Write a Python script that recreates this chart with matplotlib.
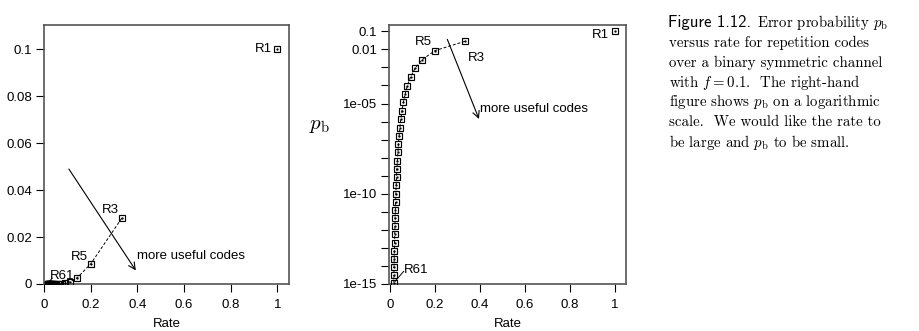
"""Bit error probability against rate for repetition codes R1 ... R61
over a binary symmetric channel with f = 0.1 (linear and log panels)."""

import matplotlib
matplotlib.use('Agg')
import matplotlib.pyplot as plt
from matplotlib.ticker import FixedLocator, NullLocator

matplotlib.rcParams['font.family'] = ['Liberation Sans', 'DejaVu Sans']
matplotlib.rcParams['mathtext.fontset'] = 'cm'
matplotlib.rcParams['xtick.direction'] = 'out'
matplotlib.rcParams['ytick.direction'] = 'out'
matplotlib.rcParams['xtick.major.size'] = 5.5
matplotlib.rcParams['ytick.major.size'] = 5.5
matplotlib.rcParams['xtick.major.width'] = 0.8
matplotlib.rcParams['ytick.major.width'] = 0.8
matplotlib.rcParams['xtick.labelsize'] = 9.5
matplotlib.rcParams['ytick.labelsize'] = 9.5

# === Data: repetition codes R_N, N = 1, 3, ..., 61
code_N = [1, 3, 5, 7, 9, 11, 13, 15, 17, 19, 21, 23, 25, 27, 29, 31,
          33, 35, 37, 39, 41, 43, 45, 47, 49, 51, 53, 55, 57, 59, 61]
rate = [1.0, 0.333, 0.2, 0.143, 0.111, 0.0909, 0.0769, 0.0667, 0.0588,
        0.0526, 0.0476, 0.0435, 0.04, 0.037, 0.0345, 0.0323, 0.0303,
        0.0286, 0.027, 0.0256, 0.0244, 0.0233, 0.0222, 0.0213, 0.0204,
        0.0196, 0.0189, 0.0182, 0.0175, 0.0169, 0.0164]
p_b = [0.1, 0.028, 0.00856, 0.00273, 0.000891, 0.000296, 9.93e-05,
       3.36e-05, 1.15e-05, 3.93e-06, 1.35e-06, 4.68e-07, 1.62e-07,
       5.63e-08, 1.96e-08, 6.85e-09, 2.4e-09, 8.39e-10, 2.94e-10,
       1.03e-10, 3.64e-11, 1.28e-11, 4.51e-12, 1.59e-12, 5.61e-13,
       1.98e-13, 7.01e-14, 2.48e-14, 8.77e-15, 3.11e-15, 1.1e-15]

lin_yticks = [0, 0.02, 0.04, 0.06, 0.08, 0.1]
lin_ytick_labels = ['0', '0.02', '0.04', '0.06', '0.08', '0.1']
# one tick per decade, labels only on some of them
log_yticks = [0.1, 0.01, 1e-3, 1e-4, 1e-5, 1e-6, 1e-7, 1e-8, 1e-9,
              1e-10, 1e-11, 1e-12, 1e-13, 1e-14, 1e-15]
log_ytick_labels = ['0.1', '0.01', '', '', '1e-05', '', '', '', '',
                    '1e-10', '', '', '', '', '1e-15']
xticks = [0, 0.2, 0.4, 0.6, 0.8, 1]
xtick_labels = ['0', '0.2', '0.4', '0.6', '0.8', '1']

caption = [
    'versus rate for repetition codes',
    'over a binary symmetric channel',
    r'with $f = 0.1$.  The right-hand',
    r'figure shows $p_{\rm b}$ on a logarithmic',
    r'scale.  We would like the rate to',
    r'be large and $p_{\rm b}$ to be small.',
]

frame_col = '#555555'


def draw_points(ax):
    # dashed curve through R3..R61, then open squares with a centre dot
    ax.plot(rate[1:], p_b[1:], ls=(0, (3, 2)), color='k', lw=0.7, zorder=2)
    ax.plot(rate, p_b, ls='none', marker='s', ms=4.8, mfc='none',
            mec='k', mew=0.85, zorder=3)
    ax.plot(rate, p_b, ls='none', marker='.', ms=1.3, color='k', zorder=4)


def style_axes(ax):
    for sp in ax.spines.values():
        sp.set_color(frame_col)
        sp.set_linewidth(1.2)
    ax.xaxis.set_major_locator(FixedLocator(xticks))
    ax.set_xticklabels(xtick_labels)
    ax.set_xlabel('Rate', fontsize=9.5, labelpad=5)
    ax.tick_params(axis='x', pad=5)
    ax.tick_params(axis='y', pad=3)


fig = plt.figure(figsize=(9.19, 3.31), dpi=100)

# --- left panel: linear p_b
ax1 = fig.add_axes([44 / 919, 47 / 331, 245 / 919, 259 / 331])
draw_points(ax1)
style_axes(ax1)
ax1.set_xlim(0, 1.05)
ax1.set_ylim(0, 0.1104)
ax1.yaxis.set_major_locator(FixedLocator(lin_yticks))
ax1.set_yticklabels(lin_ytick_labels)

ax1.text(0.975, p_b[0], 'R1', ha='right', va='center', fontsize=9.5)
ax1.text(rate[1] - 0.01, p_b[1] + 0.0035, 'R3', ha='right', va='center',
         fontsize=9.5)
ax1.text(rate[2] - 0.01, p_b[2] + 0.003, 'R5', ha='right', va='center',
         fontsize=9.5)
ax1.plot([rate[-1], 0.035], [0.0003, 0.0025], color='k', lw=0.7)
ax1.text(0.026, 0.0035, 'R61', ha='left', va='center', fontsize=9.5)
ax1.annotate('', xy=(0.4, 0.0048), xytext=(0.1, 0.05),
             arrowprops=dict(arrowstyle='->', color='k', lw=0.8,
                             mutation_scale=12))
ax1.text(0.4, 0.0118, 'more useful codes', ha='left', va='center',
         fontsize=9.5)

# --- right panel: log p_b
ax2 = fig.add_axes([389 / 919, 47 / 331, 237 / 919, 259 / 331])
draw_points(ax2)
ax2.set_yscale('log')
style_axes(ax2)
ax2.set_xlim(-0.005, 1.05)
ax2.set_ylim(1e-15, 0.224)
ax2.yaxis.set_major_locator(FixedLocator(log_yticks))
ax2.yaxis.set_minor_locator(NullLocator())
ax2.set_yticklabels(log_ytick_labels)

ax2.text(0.975, 0.062, 'R1', ha='right', va='center', fontsize=9.5)
ax2.text(0.345, 0.0032, 'R3', ha='left', va='center', fontsize=9.5)
ax2.text(0.185, 0.026, 'R5', ha='right', va='center', fontsize=9.5)
ax2.plot([0.022, 0.06], [1.4e-15, 5e-15], color='k', lw=0.7)
ax2.text(0.063, 6e-15, 'R61', ha='left', va='center', fontsize=9.5)
ax2.annotate('', xy=(0.4, 1e-06), xytext=(0.25, 0.05),
             arrowprops=dict(arrowstyle='->', color='k', lw=0.8,
                             mutation_scale=12))
ax2.text(0.4, 5e-06, 'more useful codes', ha='left', va='center',
         fontsize=9.5)

fig.text(319 / 919, 1 - 125 / 331, r'$p_{\rm b}$', fontsize=15,
         ha='center', va='center')

# --- caption
fig.text(668 / 919, 1 - 22.5 / 331, 'Figure 1.12.', family='cmss10',
         fontsize=12, ha='left', va='center')
fig.text(757 / 919, 1 - 22.5 / 331, r'Error probability $p_{\rm b}$',
         family='cmr10', fontsize=10.7, ha='left', va='center')
for i, line in enumerate(caption):
    fig.text(669 / 919, 1 - (42.5 + 20 * i) / 331, line, family='cmr10',
             fontsize=10.7, ha='left', va='center')

fig.savefig('out.png', dpi=100)
